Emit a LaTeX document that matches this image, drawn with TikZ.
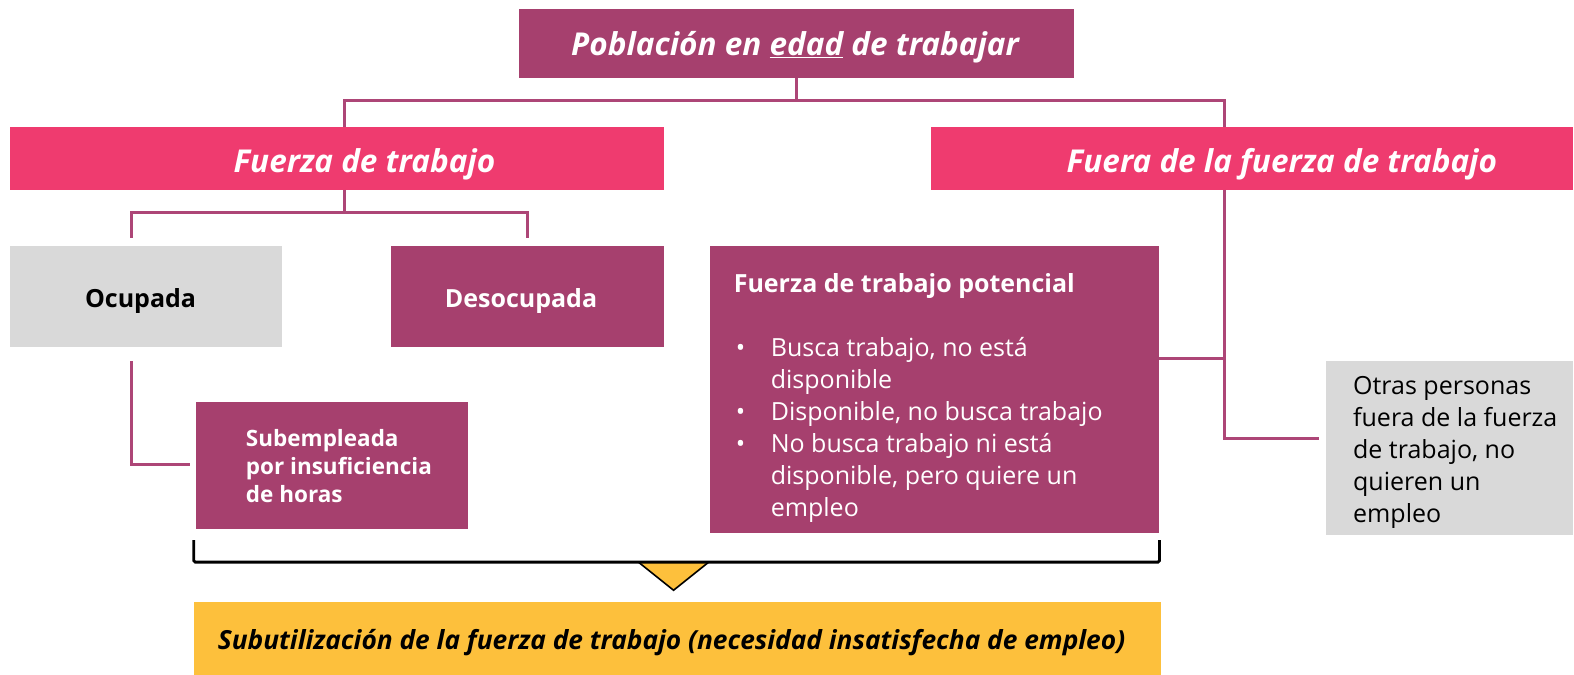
\documentclass[tikz,border=0pt]{standalone}
\usepackage{fontspec}
\setmainfont{Open Sans}
\definecolor{cmag}{HTML}{A6406E}
\definecolor{cline}{HTML}{AD4677}
\definecolor{cpink}{HTML}{EF3B6F}
\definecolor{cgrey}{HTML}{D9D9D9}
\definecolor{cyel}{HTML}{FDC03C}
\begin{document}
\begin{tikzpicture}[x=1.0038pt,y=-1.0038pt,
  box/.style={rectangle, inner sep=0pt, outer sep=0pt, anchor=north west, draw=none},
  txt/.style={inner sep=0pt, outer sep=0pt},
  conn/.style={draw=cline, line width=3pt},
  big/.style={font=\bfseries\itshape\fontsize{31.5}{36}\selectfont, text=white}]
\useasboundingbox (0,0) rectangle (1568,671.5);

% boxes
\node[box, fill=cmag, minimum width=1.0038*553pt, minimum height=1.0038*69pt] (top) at (517,9) {};
\node[txt, big] (topT) at (792,47) {Población en \underline{edad} de trabajar};

\node[box, fill=cpink, minimum width=1.0038*651pt, minimum height=1.0038*62pt] (ft) at (10,127) {};
\node[txt, big] (ftT) at (363,164) {Fuerza de trabajo};

\node[box, fill=cpink, minimum width=1.0038*640pt, minimum height=1.0038*62pt] (fft) at (927,127) {};
\node[txt, big] (fftT) at (1277,164) {Fuera de la fuerza de trabajo};

\node[box, fill=cgrey, minimum width=1.0038*271pt, minimum height=1.0038*101pt] (ocu) at (10,245) {};
\node[txt, font=\bfseries\fontsize{25}{30}\selectfont, text=black] (ocuT) at (140,300) {Ocupada};
\node[box, fill=cmag, minimum width=1.0038*271pt, minimum height=1.0038*101pt] (des) at (390,245) {};
\node[txt, font=\bfseries\fontsize{25}{30}\selectfont, text=white] (desT) at (519,300) {Desocupada};

\node[box, fill=cmag, minimum width=1.0038*271pt, minimum height=1.0038*127pt] (sub) at (195,400) {};
\node[txt, anchor=base west, text=white, font=\bfseries\fontsize{22.5}{28}\selectfont] (subT) at (245,445)
  {\begin{tabular}[t]{@{}l@{}}Subempleada\\por insuficiencia\\de horas\end{tabular}};

\node[box, fill=cmag, minimum width=1.0038*448pt, minimum height=1.0038*286pt] (pot) at (707,245) {};
\node[txt, anchor=base west, text=white, font=\bfseries\fontsize{25}{30}\selectfont] (potT) at (731,291)
  {Fuerza de trabajo potencial};
\node[txt, anchor=base west, text=white, font=\fontsize{25}{32}\selectfont] (potL) at (733,355)
  {\begin{tabular}[t]{@{}l@{}l@{}}
   \makebox[35pt][l]{•} & Busca trabajo, no está\\
    & disponible\\
   \makebox[35pt][l]{•} & Disponible, no busca trabajo\\
   \makebox[35pt][l]{•} & No busca trabajo ni está\\
    & disponible, pero quiere un\\
    & empleo
   \end{tabular}};

\node[box, fill=cgrey, minimum width=1.0038*246pt, minimum height=1.0038*173pt] (oth) at (1321,360) {};
\node[txt, anchor=base west, text=black, font=\fontsize{25}{32}\selectfont] (othT) at (1348,393)
  {\begin{tabular}[t]{@{}l@{}}Otras personas\\fuera de la fuerza\\de trabajo, no\\quieren un\\empleo\end{tabular}};

\node[box, fill=cyel, minimum width=1.0038*964pt, minimum height=1.0038*75pt] (res) at (193,600) {};
\node[txt, font=\bfseries\itshape\fontsize{26.3}{30}\selectfont, text=black] (resT) at (669,640)
  {Subutilización de la fuerza de trabajo (necesidad insatisfecha de empleo)};

% connector coordinates
\coordinate (hL) at (343,100);
\coordinate (hR) at (1220,100);
\coordinate (h2L) at (131,212);
\coordinate (h2R) at (525,212);
\coordinate (o1) at (131,237);
\coordinate (d1) at (525,237);
\coordinate (s1) at (131,360);
\coordinate (s2) at (189,463);
\coordinate (p1) at (1155,357);
\coordinate (q1) at (1314,437);

% connectors
\draw[conn] (top.south) -- (top.south |- hL);
\draw[conn] (ft.north -| hL) -- (hL) -- (hR) -- (fft.north -| hR);
\draw[conn] (ft.south -| hL) -- (hL |- h2L);
\draw[conn] (o1) -- (h2L) -- (h2R) -- (d1);
\draw[conn] (s1) |- (s2);
\draw[conn] (fft.south -| hR) -- (hR |- q1) -- (q1);
\draw[conn] (p1) -- (p1 -| hR);

% bracket and triangle
\coordinate (bL) at (193,538);
\coordinate (bR) at (1155,538);
\coordinate (tA) at (636,560);
\coordinate (tB) at (706,560);
\coordinate (tC) at (671,588);
\draw[fill=cyel, line width=1.6pt, line join=miter] (tA) -- (tC) -- (tB);
\draw[line width=2.8pt, rounded corners=1.5pt] (bL) |- (bR |- tA) -- (bR);
\end{tikzpicture}
\end{document}
